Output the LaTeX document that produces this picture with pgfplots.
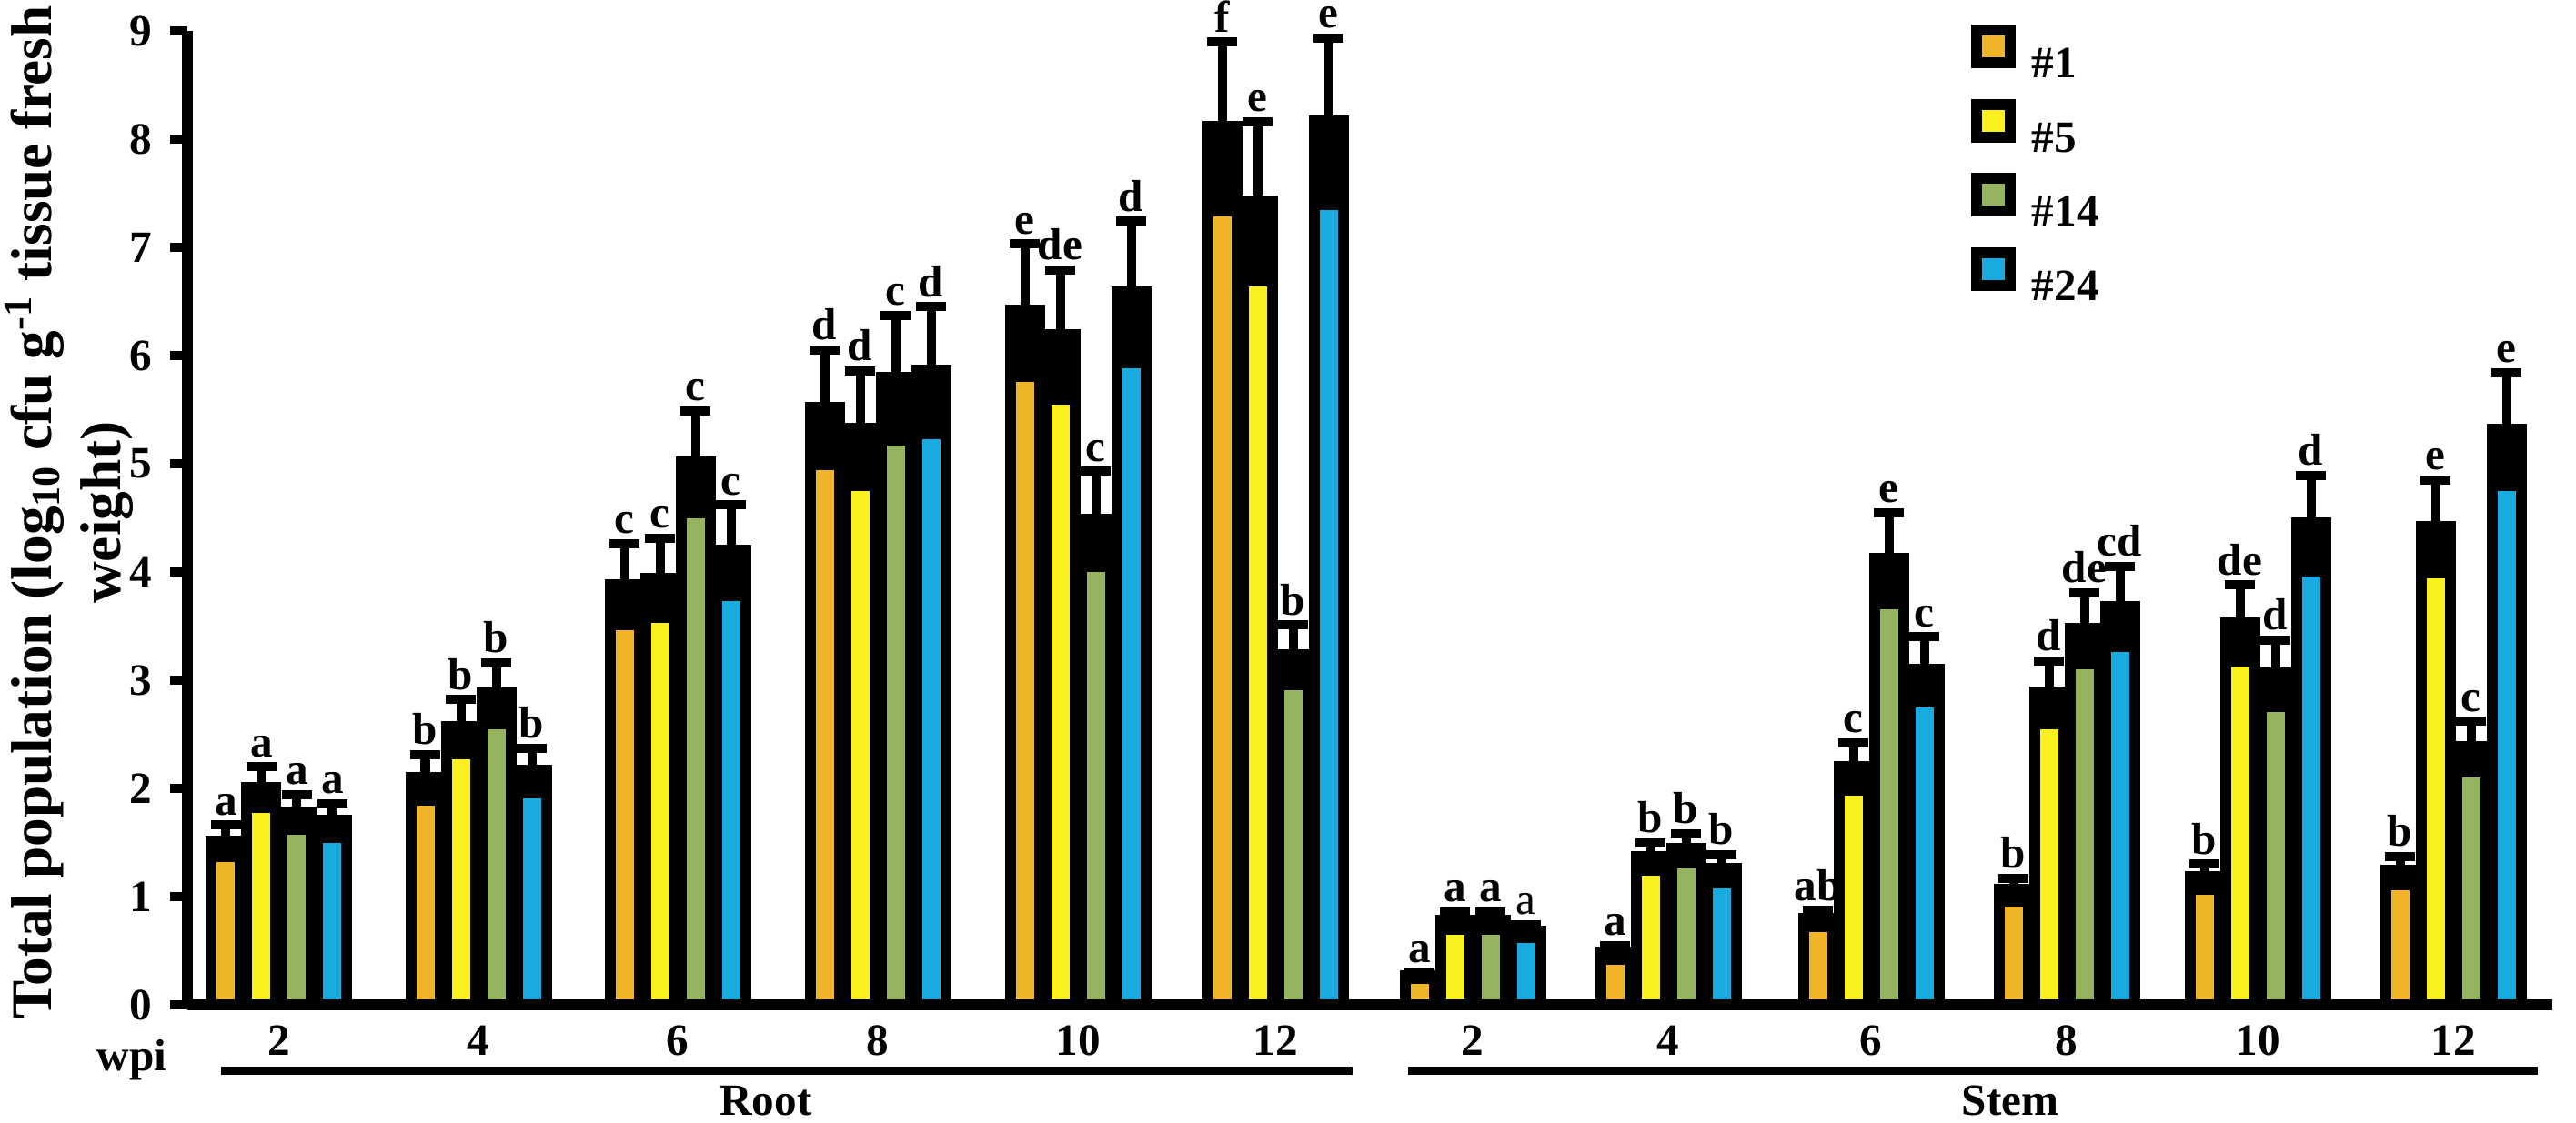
\documentclass[border=0pt]{standalone}
\usepackage{pgfplots}
\usepackage{pgfplotstable}
\usepackage{fontspec}
\setmainfont{Liberation Serif}
\pgfplotsset{compat=1.18}
\definecolor{c1}{HTML}{F0B428}
\definecolor{c2}{HTML}{FAF01E}
\definecolor{c3}{HTML}{96B45F}
\definecolor{c4}{HTML}{19AAE1}
\newcommand\tf{\fontsize{14}{16}\selectfont\bfseries}
\pgfplotstableread{
x     v1    e1    v2    e2    v3    e3    v4    e4    l1 l2 l3 l4
307   1.515 0.145 2.01  0.19  1.78  0.16  1.705 0.155 a a a a
526   2.10  0.21  2.57  0.25  2.88  0.28  2.165 0.205 b b b b
745   3.885 0.375 3.945 0.365 5.02  0.47  4.20  0.42  c c c c
965   5.52  0.53  5.33  0.53  5.795 0.575 5.865 0.585 d d c d
1185  6.42  0.61  6.195 0.595 4.49  0.44  6.585 0.655 e de c d
1402  8.12  0.78  7.425 0.735 3.235 0.275 8.165 0.77  f e b e
1619  0.27  0.03  0.78  0.08  0.78  0.08  0.68  0.06  a a a \textmd{a}
1834  0.485 0.065 1.37  0.13  1.445 0.135 1.26  0.13  a b b b
2057  0.795 0.075 2.20  0.22  4.13  0.42  3.10  0.30  ab c e c
2272  1.065 0.105 2.89  0.29  3.48  0.33  3.68  0.37  b d de cd
2482  1.185 0.115 3.53  0.35  3.065 0.305 4.45  0.44  b de d d
2697  1.24  0.13  4.42  0.43  2.385 0.235 5.32  0.52  b e c e
}\data
\pgfplotsset{
  blackbar/.style={ybar, bar width=32, bar shift=#1, fill=black, draw=black, line width=0.12cm, forget plot},
  colbar/.style 2 args={ybar, bar width=32, bar shift=#1, fill=#2, draw=black, line width=0.12cm, forget plot},
  errs/.style={draw=none, mark=none, forget plot,
    error bars/.cd, y dir=plus, y explicit,
    error bar style={draw=black, line width=0.1cm},
    error mark options={draw=black, rotate=90, mark size=0.165cm, line width=0.1cm}},
  letters/.style={draw=none, mark=none, forget plot, nodes near coords, point meta=explicit symbolic,
    every node near coord/.append style={anchor=south, inner sep=0pt, yshift=0.10cm, font=\tf, black}},
}
\begin{document}
\begin{tikzpicture}
\useasboundingbox (-2.06cm,-1.29cm) rectangle (26.26cm,11.05cm);
\begin{axis}[
  scale only axis, width=26cm, height=10.71cm,
  xmin=206, xmax=2806, ymin=0, ymax=9,
  clip=false,
  axis x line*=bottom, axis y line*=left,
  axis line style={line width=0.12cm, black, -},
  ytick={0,1,2,3,4,5,6,7,8,9},
  xtick={307,526,745,965,1185,1402,1619,1834,2057,2272,2482,2697},
  xticklabels={2,4,6,8,10,12,2,4,6,8,10,12},
  tick align=outside, major tick length=0.19cm,
  ytick style={line width=0.1cm, black},
  xtick style={draw=none},
  /pgf/number format/assume math mode=true,
  ticklabel style={font=\tf},
  yticklabel style={inner sep=0pt, xshift=-0.19cm},
  xticklabel style={anchor=base, inner sep=0pt, yshift=-0.36cm},
  legend image code/.code={\draw[#1] (0cm,-0.01cm) rectangle (0.37cm,0.35cm);},
  legend cell align=left,
  legend style={draw=none, fill=none, at={(axis description cs:0.7542,1.0064)}, anchor=north west,
    inner sep=0pt, outer sep=0pt, row sep=0.23cm, font=\tf,
    nodes={inner sep=0pt, text height=0.35cm, text depth=0cm},
    /tikz/every odd column/.append style={column sep=0.18cm}},
]
\addplot[blackbar=-58.5] table[x=x, y=v1] \data;
\addplot[colbar={-58.5}{c1}] table[x=x, y expr=\thisrow{v1}-\thisrow{e1}] \data;
\addplot[blackbar=-19.5] table[x=x, y=v2] \data;
\addplot[colbar={-19.5}{c2}] table[x=x, y expr=\thisrow{v2}-\thisrow{e2}] \data;
\addplot[blackbar=19.5] table[x=x, y=v3] \data;
\addplot[colbar={19.5}{c3}] table[x=x, y expr=\thisrow{v3}-\thisrow{e3}] \data;
\addplot[blackbar=58.5] table[x=x, y=v4] \data;
\addplot[colbar={58.5}{c4}] table[x=x, y expr=\thisrow{v4}-\thisrow{e4}] \data;
\addplot[errs] table[x expr=\thisrow{x}-58.5, y=v1, y error=e1] \data;
\addplot[errs] table[x expr=\thisrow{x}-19.5, y=v2, y error=e2] \data;
\addplot[errs] table[x expr=\thisrow{x}+19.5, y=v3, y error=e3] \data;
\addplot[errs] table[x expr=\thisrow{x}+58.5, y=v4, y error=e4] \data;
\addplot[letters] table[x expr=\thisrow{x}-58.5, y expr=\thisrow{v1}+\thisrow{e1}, meta=l1] \data;
\addplot[letters] table[x expr=\thisrow{x}-19.5, y expr=\thisrow{v2}+\thisrow{e2}, meta=l2] \data;
\addplot[letters] table[x expr=\thisrow{x}+19.5, y expr=\thisrow{v3}+\thisrow{e3}, meta=l3] \data;
\addplot[letters] table[x expr=\thisrow{x}+58.5, y expr=\thisrow{v4}+\thisrow{e4}, meta=l4] \data;
\addlegendimage{fill=c1, draw=black, line width=0.12cm}
\addlegendentry{\#1}
\addlegendimage{fill=c2, draw=black, line width=0.12cm}
\addlegendentry{\#5}
\addlegendimage{fill=c3, draw=black, line width=0.12cm}
\addlegendentry{\#14}
\addlegendimage{fill=c4, draw=black, line width=0.12cm}
\addlegendentry{\#24}
\node[rotate=90, align=center, font=\fontsize{18}{21.5}\selectfont\bfseries] at (axis cs:76,4.55)
  {Total population (log\textsubscript{10} cfu g\textsuperscript{-1} tissue fresh\\weight)};
\node[anchor=base, font=\tf, inner sep=0pt] at (axis cs:145,-0.605) {wpi};
\draw[line width=0.09cm] (axis cs:243,-0.613) -- (axis cs:1487,-0.613);
\draw[line width=0.09cm] (axis cs:1548,-0.613) -- (axis cs:2790,-0.613);
\node[anchor=base, font=\tf, inner sep=0pt] at (axis cs:842,-1.017) {Root};
\node[anchor=base, font=\tf, inner sep=0pt] at (axis cs:2210,-1.017) {Stem};
\end{axis}
\end{tikzpicture}
\end{document}
